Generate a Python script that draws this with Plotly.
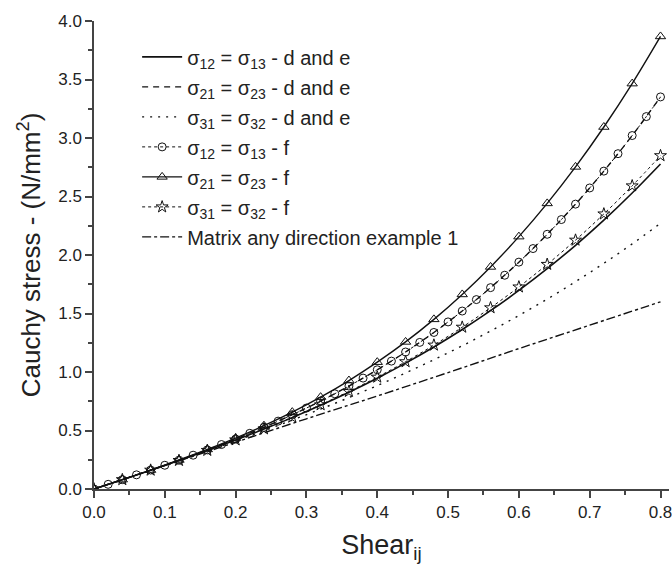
import plotly.graph_objects as go

# x grids
x_fine = [0.00, 0.02, 0.04, 0.06, 0.08, 0.10, 0.12, 0.14, 0.16, 0.18, 0.20, 0.22, 0.24, 0.26, 0.28,
          0.30, 0.32, 0.34, 0.36, 0.38, 0.40, 0.42, 0.44, 0.46, 0.48, 0.50, 0.52, 0.54, 0.56, 0.58,
          0.60, 0.62, 0.64, 0.66, 0.68, 0.70, 0.72, 0.74, 0.76, 0.78, 0.80]
x_mid = [0.00, 0.04, 0.08, 0.12, 0.16, 0.20, 0.24, 0.28, 0.32, 0.36, 0.40, 0.44, 0.48, 0.52,
         0.56, 0.60, 0.64, 0.68, 0.72, 0.76, 0.80]
x_matrix = [0.0, 0.1, 0.2, 0.3, 0.4, 0.5, 0.6, 0.7, 0.8]

# series values
s12_de = [0.0, 0.080, 0.161, 0.244, 0.329, 0.418, 0.512, 0.610, 0.715, 0.827, 0.947, 1.076,
          1.214, 1.363, 1.524, 1.697, 1.883, 2.083, 2.298, 2.530, 2.778]
s21_de = [0.0, 0.080, 0.162, 0.246, 0.334, 0.427, 0.527, 0.635, 0.752, 0.880, 1.019, 1.171,
          1.338, 1.521, 1.721, 1.939, 2.177, 2.435, 2.717, 3.021, 3.351]
s31_de = [0.0, 0.080, 0.161, 0.242, 0.325, 0.411, 0.498, 0.589, 0.683, 0.781, 0.884, 0.992,
          1.105, 1.224, 1.350, 1.483, 1.623, 1.772, 1.929, 2.095, 2.271]
s12_f = [0.0, 0.040, 0.080, 0.121, 0.162, 0.203, 0.246, 0.289, 0.334, 0.380, 0.427, 0.476,
         0.527, 0.580, 0.635, 0.692, 0.752, 0.814, 0.880, 0.948, 1.019, 1.093, 1.171, 1.253,
         1.338, 1.428, 1.521, 1.619, 1.721, 1.827, 1.939, 2.055, 2.177, 2.303, 2.435, 2.573,
         2.717, 2.866, 3.021, 3.183, 3.351]
s21_f = [0.0, 0.080, 0.162, 0.248, 0.338, 0.435, 0.541, 0.657, 0.785, 0.927, 1.084, 1.257,
         1.450, 1.663, 1.898, 2.157, 2.441, 2.753, 3.094, 3.465, 3.868]
s31_f = [0.0, 0.080, 0.161, 0.244, 0.330, 0.420, 0.514, 0.614, 0.720, 0.834, 0.956, 1.088,
         1.230, 1.383, 1.549, 1.727, 1.920, 2.127, 2.351, 2.591, 2.849]
matrix = [0.0, 0.20, 0.40, 0.60, 0.795, 0.995, 1.20, 1.40, 1.60]

names = [
    "σ<sub>12</sub> = σ<sub>13</sub> - d and e",
    "σ<sub>21</sub> = σ<sub>23</sub> - d and e",
    "σ<sub>31</sub> = σ<sub>32</sub> - d and e",
    "σ<sub>12</sub> = σ<sub>13</sub> - f",
    "σ<sub>21</sub> = σ<sub>23</sub> - f",
    "σ<sub>31</sub> = σ<sub>32</sub> - f",
    "Matrix any direction example 1",
]

FONT = "Liberation Sans, Arial, sans-serif"
BLACK = "#111111"

fig = go.Figure()
fig.add_trace(go.Scatter(x=x_mid, y=s12_de, mode="lines", name=names[0], legendgroup="g1",
                         line=dict(color=BLACK, width=1.6, dash="solid", shape="spline")))
fig.add_trace(go.Scatter(x=x_mid, y=s21_de, mode="lines", name=names[1], legendgroup="g2",
                         line=dict(color=BLACK, width=1.4, dash="6px,5px", shape="spline")))
fig.add_trace(go.Scatter(x=x_mid, y=s31_de, mode="lines", name=names[2], legendgroup="g3",
                         line=dict(color=BLACK, width=1.4, dash="2px,6px", shape="spline")))
fig.add_trace(go.Scatter(x=x_fine, y=s12_f, mode="lines+markers", name=names[3], legendgroup="g4",
                         line=dict(color=BLACK, width=1, dash="dot", shape="spline"),
                         marker=dict(symbol="circle-open", size=8, color=BLACK, line=dict(width=1))))
fig.add_trace(go.Scatter(x=x_mid, y=s21_f, mode="lines+markers", name=names[4], legendgroup="g5",
                         line=dict(color=BLACK, width=1.4, dash="solid", shape="spline"),
                         marker=dict(symbol="triangle-up-open", size=9, color=BLACK, line=dict(width=1))))
fig.add_trace(go.Scatter(x=x_mid, y=s31_f, mode="lines+markers", name=names[5], legendgroup="g6",
                         line=dict(color=BLACK, width=1, dash="dot", shape="spline"),
                         marker=dict(symbol="star-open", size=9, color=BLACK, line=dict(width=1))))
fig.add_trace(go.Scatter(x=x_matrix, y=matrix, mode="lines", name=names[6], legendgroup="g7",
                         line=dict(color=BLACK, width=1.4, dash="dashdot", shape="spline")))

axis_common = dict(
    showline=True, linecolor="#444444", linewidth=1.5, mirror=False,
    showgrid=False, zeroline=False,
    ticks="outside", ticklen=7, tickwidth=1.5, tickcolor="#444444",
    tickfont=dict(family=FONT, size=17, color="#222222"),
)

fig.update_layout(
    width=672, height=569,
    margin=dict(l=94, r=0, t=21, b=80),
    paper_bgcolor="white", plot_bgcolor="white",
    font=dict(family=FONT, color="#222222"),
    xaxis=dict(range=[0, 0.812], tickmode="linear", tick0=0, dtick=0.1, tickformat=".1f",
               ticklabeloverflow="allow",
               minor=dict(ticks="outside", ticklen=4, tickwidth=1.5, tickcolor="#444444", dtick=0.05),
               title=dict(text="Shear<sub>ij</sub>", font=dict(family=FONT, size=27, color="#222222"),
                          standoff=14),
               **axis_common),
    yaxis=dict(range=[0, 4.0], tickmode="linear", tick0=0, dtick=0.5, tickformat=".1f",
               minor=dict(ticks="outside", ticklen=4, tickwidth=1.5, tickcolor="#444444", dtick=0.25),
               title=dict(text="Cauchy stress - (N/mm<sup>2</sup>)",
                          font=dict(family=FONT, size=26, color="#222222"), standoff=10),
               **axis_common),
    legend=dict(x=0.075, y=0.965, xanchor="left", yanchor="top",
                bgcolor="rgba(0,0,0,0)", borderwidth=0,
                font=dict(family=FONT, size=20, color="#222222"),
                itemwidth=40, tracegroupgap=1),
    showlegend=True,
)

fig.write_html("out.html")
